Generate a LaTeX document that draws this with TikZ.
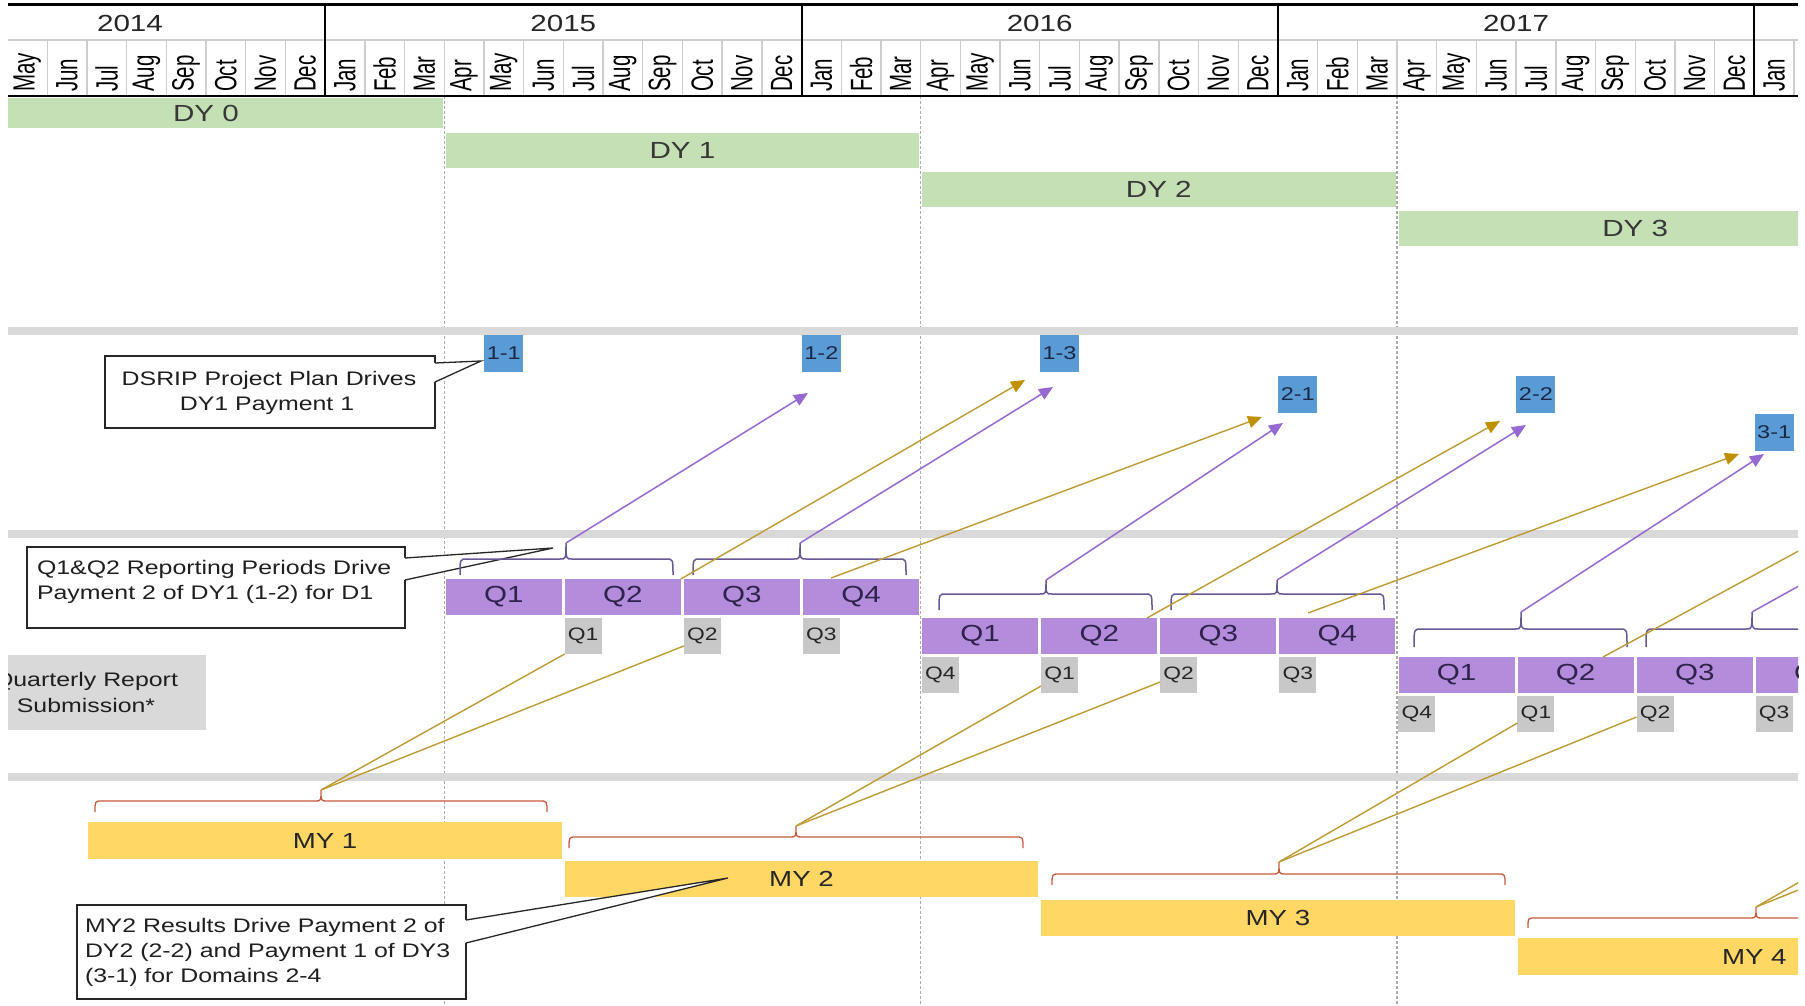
\documentclass[tikz,border=0pt]{standalone}
\usepackage{fontspec}
\setmainfont{Liberation Sans}
\newfontfamily\widesans{Liberation Sans}[FakeStretch=1.27]
\usetikzlibrary{arrows.meta,calc}

\definecolor{dygreen}{RGB}{197,224,180}
\definecolor{qpurple}{RGB}{180,140,220}
\definecolor{qtext}{RGB}{45,35,75}
\definecolor{rgray}{RGB}{200,200,200}
\definecolor{sgray}{RGB}{217,217,217}
\definecolor{pblue}{RGB}{91,155,213}
\definecolor{ptext}{RGB}{25,40,70}
\definecolor{myyellow}{RGB}{255,215,100}
\definecolor{goldline}{RGB}{190,155,50}
\definecolor{goldtip}{RGB}{192,144,0}
\definecolor{parr}{RGB}{150,105,210}
\definecolor{pbrace}{RGB}{105,88,150}
\definecolor{mbrace}{RGB}{200,90,60}
\definecolor{cellgray}{RGB}{205,205,205}
\definecolor{dashgray}{RGB}{170,170,170}

% a flat curly brace with hooked ends and a pointed centre; the tip gets a name
\newcommand{\tlbrace}[8]{% style, tip name, x1, xc, x2, yEnd, yH, yTip
  \draw[#1] (#3,#6) .. controls (#3,#7) .. ({#3+7},#7) -- ({#4-6},#7)
    .. controls (#4,#7) .. (#4,#8) .. controls (#4,#7) .. ({#4+6},#7)
    -- ({#5-7},#7) .. controls (#5,#7) .. (#5,#6);
  \coordinate (#2) at (#4,#8);
}

\begin{document}
\begin{tikzpicture}[x=1pt,y=-1pt,
  every node/.style={inner sep=0pt, outer sep=0pt},
  month/.style={rotate=90, anchor=west, font=\fontsize{20.5}{21}\selectfont, text=black},
  yearlbl/.style={font=\widesans\fontsize{23.3}{24}\selectfont, text=black!85},
  dybar/.style={fill=dygreen, minimum height=35pt, minimum width=473.4pt,
    font=\widesans\fontsize{23.3}{24}\selectfont, text=black!78},
  mybar/.style={fill=myyellow, minimum height=36pt, minimum width=473.4pt,
    font=\widesans\fontsize{21.8}{22}\selectfont, text=black!85},
  qbox/.style={fill=qpurple, minimum width=116pt, minimum height=36pt,
    font=\widesans\fontsize{23.3}{24}\selectfont, text=qtext},
  rbox/.style={fill=rgray, minimum width=37pt, minimum height=36pt,
    font=\widesans\fontsize{18}{18}\selectfont, text=black!85},
  paybox/.style={fill=pblue, minimum width=39pt, minimum height=37pt,
    font=\widesans\fontsize{18.5}{19}\selectfont, text=ptext},
  calbox/.style={draw=black!85, line width=1.3pt, fill=white},
  calline/.style={draw=black!85, line width=1.3pt},
  caltext/.style={font=\widesans\fontsize{19.6}{25}\selectfont, text=black!88},
  cellline/.style={draw=cellgray, line width=1.4pt},
  fyline/.style={draw=dashgray, line width=1.1pt, dash pattern=on 3pt off 2pt},
  sepband/.style={fill=sgray},
  pbr/.style={draw=pbrace, line width=1.5pt},
  mbr/.style={draw=mbrace, line width=1.3pt},
  parrow/.style={draw=parr, line width=1.5pt, -{Triangle[length=14pt,width=12pt,color=parr]}},
  pline/.style={draw=parr, line width=1.5pt},
  garrow/.style={draw=goldline, line width=1.4pt, -{Triangle[length=14pt,width=12pt,color=goldtip]}},
  gline/.style={draw=goldline, line width=1.4pt}
]
\useasboundingbox (0,0) rectangle (1805,1006);
\fill[white] (0,0) rectangle (1805,1006);

\begin{scope}
\clip (8,0) rectangle (1798,1006);

% ---------- fiscal-year guides and section bands ----------
\foreach \i in {11,23,35}
  \draw[fyline] ({7.5+39.7*\i},41) -- ({7.5+39.7*\i},1006);
\fill[sepband] (8,327) rectangle (1798,335);
\fill[sepband] (8,530) rectangle (1798,538);
\fill[sepband] (8,773) rectangle (1798,781);

% ---------- calendar header ----------
\foreach \i in {0,...,45}
  \draw[cellline] ({7.5+39.7*\i},40) -- ({7.5+39.7*\i},96);
\draw[cellline] (8,40) -- (1798,40);
\foreach \i in {8,20,32,44}
  \draw[line width=2pt] ({7.5+39.7*\i},5) -- ({7.5+39.7*\i},96);
\draw[line width=3pt] (8,5) -- (1798,5);
\draw[line width=2.5pt] (8,96) -- (1798,96);

\node[yearlbl] (y2014) at (130,23) {2014};
\node[yearlbl] (y2015) at (563.3,23) {2015};
\node[yearlbl] (y2016) at (1039.7,23) {2016};
\node[yearlbl] (y2017) at (1516.1,23) {2017};

\foreach \m [count=\k from 0] in {May,Jun,Jul,Aug,Sep,Oct,Nov,Dec,
    Jan,Feb,Mar,Apr,May,Jun,Jul,Aug,Sep,Oct,Nov,Dec,
    Jan,Feb,Mar,Apr,May,Jun,Jul,Aug,Sep,Oct,Nov,Dec,
    Jan,Feb,Mar,Apr,May,Jun,Jul,Aug,Sep,Oct,Nov,Dec,Jan}
  \node[month] (mo\k) at ({27.35+39.7*\k},92) {\scalebox{1}[1.5]{\m}};

% ---------- demonstration years ----------
\node[dybar, minimum height=30pt] (dy0) at (206,113) {DY 0};
\node[dybar] (dy1) at (682.4,150.5) {DY 1};
\node[dybar] (dy2) at (1158.8,189.5) {DY 2};
\node[dybar] (dy3) at (1635.2,228.5) {DY 3};

% ---------- payments ----------
\node[paybox] (pay11) at (503.75,353.5) {1-1};
\node[paybox] (pay12) at (821.35,353.5) {1-2};
\node[paybox] (pay13) at (1059.55,353.5) {1-3};
\node[paybox] (pay21) at (1297.75,394) {2-1};
\node[paybox] (pay22) at (1535.95,394) {2-2};
\node[paybox] (pay31) at (1774.15,432) {3-1};

% ---------- reporting quarters ----------
\foreach \q [count=\k from 0] in {1,2,3,4} {
  \node[qbox] (qA\q) at ({7.5+39.7*(11+3*\k)+59.55},597) {Q\q};
  \node[qbox] (qB\q) at ({7.5+39.7*(23+3*\k)+59.55},636) {Q\q};
  \node[qbox] (qC\q) at ({7.5+39.7*(35+3*\k)+59.55},675) {Q\q};
}

% ---------- quarterly report submissions ----------
\foreach \q/\i in {1/14,2/17,3/20}
  \node[rbox] (rA\q) at ({27.35+39.7*\i},636) {Q\q};
\foreach \q/\i in {4/23,1/26,2/29,3/32}
  \node[rbox] (rB\q) at ({27.35+39.7*\i},675) {Q\q};
\foreach \q/\i in {4/35,1/38,2/41,3/44}
  \node[rbox] (rC\q) at ({27.35+39.7*\i},714) {Q\q};

\node[fill=sgray, minimum width=198pt, minimum height=75pt, anchor=north west] (qrs) at (8,655) {};
\node[caltext, anchor=base] (qrs1) at (86,686) {Quarterly Report};
\node[caltext, anchor=base] (qrs2) at (86,712) {Submission*};

% ---------- measurement years ----------
\node[mybar, minimum height=37pt] (my1) at (325.1,840.5) {MY 1};
\node[mybar] (my2) at (801.5,879) {MY 2};
\node[mybar] (my3) at (1277.9,918) {MY 3};
\node[mybar, minimum height=37pt] (my4) at (1754.3,956.5) {MY 4};

% ---------- callouts ----------
\node[calbox, minimum width=330pt, minimum height=72pt] (c1) at (270,392) {};
\coordinate (c1tip) at (481,361);
\fill[white] ([xshift=-1pt,yshift=-7pt]c1.north east) -- (c1tip) -- ([xshift=-1pt,yshift=-26pt]c1.north east) -- cycle;
\draw[calline] ([yshift=-7pt]c1.north east) -- (c1tip) -- ([yshift=-26pt]c1.north east);
\node[caltext, anchor=base] (c1a) at (269,385) {DSRIP Project Plan Drives};
\node[caltext, anchor=base] (c1b) at (267,410) {DY1 Payment 1};

\node[calbox, minimum width=378pt, minimum height=81pt] (c2) at (216,587.5) {};
\coordinate (c2tip) at (553,548);
\fill[white] ([xshift=-1pt,yshift=-11pt]c2.north east) -- (c2tip) -- ([xshift=-1pt,yshift=-33pt]c2.north east) -- cycle;
\draw[calline] ([yshift=-11pt]c2.north east) -- (c2tip) -- ([yshift=-33pt]c2.north east);
\node[caltext, anchor=base west] (c2a) at (37,574) {Q1\&Q2 Reporting Periods Drive};
\node[caltext, anchor=base west] (c2b) at (37,599) {Payment 2 of DY1 (1-2) for D1};

\node[calbox, minimum width=389pt, minimum height=94pt] (c3) at (271.5,952) {};
\coordinate (c3tip) at (728,878);
\fill[white] ([xshift=-1pt,yshift=-15pt]c3.north east) -- (c3tip) -- ([xshift=-1pt,yshift=-38pt]c3.north east) -- cycle;
\draw[calline] ([yshift=-15pt]c3.north east) -- (c3tip) -- ([yshift=-38pt]c3.north east);
\node[caltext, anchor=base west] (c3a) at (85,932) {MY2 Results Drive Payment 2 of};
\node[caltext, anchor=base west] (c3b) at (85,957) {DY2 (2-2) and Payment 1 of DY3};
\node[caltext, anchor=base west] (c3c) at (85,982) {(3-1) for Domains 2-4};

% ---------- braces over quarter pairs and measurement years ----------
\tlbrace{pbr}{bA1}{460}{566}{673}{575}{559}{543}
\tlbrace{pbr}{bA2}{693}{800}{906}{575}{559}{543}
\tlbrace{pbr}{bB1}{939}{1046}{1152}{610}{594}{580}
\tlbrace{pbr}{bB2}{1171}{1277}{1384}{610}{594}{580}
\tlbrace{pbr}{bC1}{1414}{1521}{1627}{647}{629}{612}
\tlbrace{pbr}{bC2}{1646}{1752}{1859}{647}{629}{612}

\tlbrace{mbr}{bm1}{95}{321}{547}{812}{801}{790}
\tlbrace{mbr}{bm2}{569}{796}{1023}{848}{837}{826}
\tlbrace{mbr}{bm3}{1052}{1279}{1505}{885}{874}{862}
\tlbrace{mbr}{bm4}{1528}{1756}{1982}{928}{918}{907}

% ---------- arrow ends beside the payment boxes ----------
\coordinate (t12p) at (808,393);
\coordinate (t13p) at (1053,387);
\coordinate (t21p) at (1283,423);
\coordinate (t22p) at (1526,425);
\coordinate (t31p) at (1764,454);
\coordinate (t13g) at (1025,380);
\coordinate (t21g) at (1262,417);
\coordinate (t22g) at (1500,421);
\coordinate (t31g) at (1739,454);
\coordinate (pout) at (1905,527);
\coordinate (g2s) at (831,578);
\coordinate (g3s) at (1147,618);
\coordinate (g4s) at (1308,613);
\coordinate (g5s) at (1603,657);
\coordinate (gout) at (1900,496);
\coordinate (m4a) at (1994,770);
\coordinate (m4b) at (2113,764);

% quarter pairs drive payments
\draw[parrow] (bA1) -- (t12p);
\draw[parrow] (bA2) -- (t13p);
\draw[parrow] (bB1) -- (t21p);
\draw[parrow] (bB2) -- (t22p);
\draw[parrow] (bC1) -- (t31p);
\draw[pline] (bC2) -- (pout);

% measurement results drive payments
\draw[garrow] (qA2.north east) -- (t13g);
\draw[garrow] (g2s) -- (t21g);
\draw[garrow] (g3s) -- (t22g);
\draw[garrow] (g4s) -- (t31g);
\draw[gline] (g5s) -- (gout);

% measurement years feed the quarterly reports
\draw[gline] (bm1) -- (rA1.south west);
\draw[gline] (bm1) -- ([yshift=-10pt]rA2.west);
\draw[gline] (bm2) -- ([yshift=-11pt]rB1.west);
\draw[gline] (bm2) -- ([yshift=-7pt]rB2.west);
\draw[gline] (bm3) -- ([yshift=-9pt]rC1.west);
\draw[gline] (bm3) -- ([yshift=-3pt]rC2.west);
\draw[gline] (bm4) -- (m4a);
\draw[gline] (bm4) -- (m4b);
\end{scope}
\end{tikzpicture}
\end{document}
